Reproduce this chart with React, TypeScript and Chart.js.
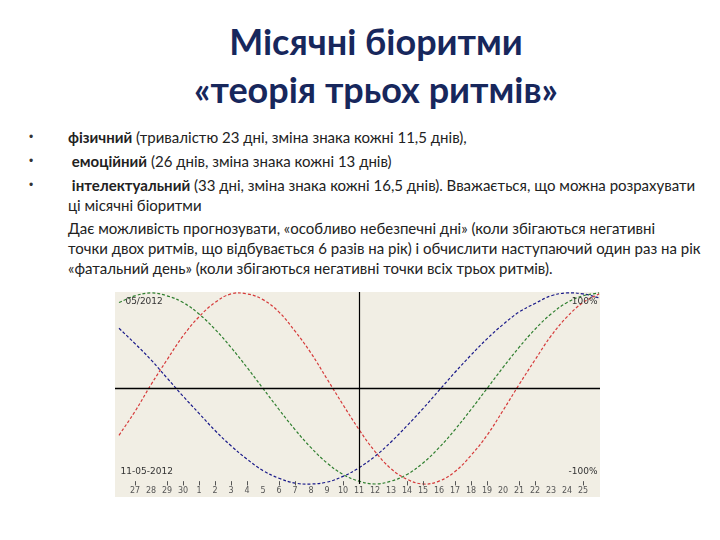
import React, { useEffect, useRef } from "react";
import { Chart, registerables } from "chart.js";

Chart.register(...registerables);

const days = [-1, 0, 1, 2, 3, 4, 5, 6, 7, 8, 9, 10, 11, 12, 13, 14, 15, 16, 17, 18, 19, 20, 21, 22, 23, 24, 25, 26, 27, 28, 29];
const physical = [-49, -24, 4, 30, 55, 75, 90, 99, 99, 93, 80, 60, 37, 10, -17, -43, -66, -84, -95, -100, -97, -87, -70, -49, -23, 4, 30, 55, 75, 90, 99];
const emotional = [90, 97, 100, 97, 90, 78, 62, 43, 22, 0, -22, -43, -62, -78, -90, -97, -100, -97, -90, -78, -62, -43, -22, 0, 22, 43, 62, 78, 90, 97, 100];
const intellectual = [63, 47, 30, 11, -8, -26, -44, -60, -74, -86, -94, -99, -100, -98, -92, -83, -71, -56, -39, -21, -2, 17, 35, 52, 67, 80, 89, 97, 100, 99, 95];
const tickLabels = ["27", "28", "29", "30", "1", "2", "3", "4", "5", "6", "7", "8", "9", "10", "11", "12", "13", "14", "15", "16", "17", "18", "19", "20", "21", "22", "23", "24", "25"];
const markedLabels = ["27", "29", "30", "1", "2", "3", "4", "6", "7", "10", "14", "15", "17", "18", "19", "21", "22", "25"];
const currentDayIndex = 14;
const cornerTopLeft = "05/2012";
const cornerTopRight = "100%";
const cornerBottomLeft = "11-05-2012";
const cornerBottomRight = "-100%";

const titleLines = ["Місячні біоритми", "«теорія трьох ритмів»"];

const overlayPlugin = {
  id: "bioOverlay",
  beforeDraw(chart: any) {
    const { ctx, width, height } = chart;
    ctx.save();
    ctx.fillStyle = "#f1eee4";
    ctx.fillRect(0, 0, width, height);
    ctx.restore();
  },
  afterDatasetsDraw(chart: any) {
    const { ctx, chartArea, scales } = chart;
    const x = scales.x;
    const y = scales.y;
    ctx.save();
    const y0 = Math.round(y.getPixelForValue(0)) + 0.5;
    ctx.strokeStyle = "#000";
    ctx.lineWidth = 1.5;
    ctx.beginPath();
    ctx.moveTo(chartArea.left, y0);
    ctx.lineTo(chartArea.right, y0);
    ctx.stroke();
    const xc = Math.round(x.getPixelForValue(currentDayIndex)) + 0.5;
    ctx.lineWidth = 1.2;
    ctx.beginPath();
    ctx.moveTo(xc, chartArea.top);
    ctx.lineTo(xc, y.getPixelForValue(-100));
    ctx.stroke();
    ctx.fillStyle = "#555";
    ctx.strokeStyle = "#555";
    ctx.lineWidth = 1;
    ctx.font = "8px 'DejaVu Sans'";
    ctx.textAlign = "center";
    ctx.textBaseline = "middle";
    const labelY = y.getPixelForValue(-107);
    tickLabels.forEach((lab, i) => {
      const px = x.getPixelForValue(i);
      ctx.fillText(lab, px, labelY);
      if (markedLabels.includes(lab)) {
        const t = Math.round(px) + 0.5;
        ctx.beginPath();
        ctx.moveTo(t, y.getPixelForValue(-97));
        ctx.lineTo(t, y.getPixelForValue(-101.5));
        ctx.stroke();
      }
    });
    ctx.font = "9px 'DejaVu Sans'";
    ctx.fillStyle = "#333";
    ctx.textAlign = "left";
    ctx.fillText(cornerTopLeft, x.getPixelForValue(-0.6), y.getPixelForValue(91));
    ctx.fillText(cornerBottomLeft, x.getPixelForValue(-0.9), y.getPixelForValue(-87));
    ctx.textAlign = "right";
    ctx.fillText(cornerTopRight, x.getPixelForValue(28.9), y.getPixelForValue(91));
    ctx.fillText(cornerBottomRight, x.getPixelForValue(28.9), y.getPixelForValue(-87));
    ctx.restore();
  },
};

function BioChart() {
  const ref = useRef<HTMLCanvasElement | null>(null);
  useEffect(() => {
    if (!ref.current) return;
    const mk = (vals: number[], color: string) => ({
      data: days.map((d, i) => ({ x: d, y: vals[i] })),
      borderColor: color,
      borderWidth: 1.2,
      borderDash: [3, 2],
      pointRadius: 0,
      tension: 0.4,
      fill: false,
    });
    const chart = new Chart(ref.current, {
      type: "line",
      data: {
        datasets: [
          mk(physical, "#d63a3a"),
          mk(emotional, "#2f7f2f"),
          mk(intellectual, "#1a1a8a"),
        ],
      },
      options: {
        animation: false,
        responsive: false,
        maintainAspectRatio: false,
        layout: { padding: 0 },
        plugins: { legend: { display: false }, tooltip: { enabled: false } },
        scales: {
          x: { type: "linear", display: false, min: -1.25, max: 29.06 },
          y: { display: false, min: -113.6, max: 101 },
        },
      },
      plugins: [overlayPlugin],
    } as any);
    return () => chart.destroy();
  }, []);
  return (
    <canvas
      ref={ref}
      width={485}
      height={205}
      style={{ position: "absolute", left: 115, top: 292, width: 485, height: 205 }}
    />
  );
}

const bodyFont = "Lato, 'Open Sans', sans-serif";

function Line({ top, left, children }: { top: number; left: number; children: any }) {
  return (
    <div
      style={{
        position: "absolute",
        top: top - 10,
        left,
        lineHeight: "20px",
        fontSize: 15,
        fontFamily: bodyFont,
        color: "#222",
        whiteSpace: "nowrap",
      }}
    >
      {children}
    </div>
  );
}

function Bullet({ top }: { top: number }) {
  return (
    <div
      style={{
        position: "absolute",
        top: top - 10,
        left: 29,
        lineHeight: "20px",
        fontSize: 12,
        fontFamily: "Arial, sans-serif",
        color: "#333",
      }}
    >
      •
    </div>
  );
}

export default function App() {
  return (
    <div
      style={{
        position: "fixed",
        left: 0,
        top: 0,
        width: 720,
        height: 540,
        background: "#fff",
        overflow: "hidden",
      }}
    >
      <div
        style={{
          position: "absolute",
          left: 0,
          width: 752,
          top: 17,
          textAlign: "center",
          fontFamily: bodyFont,
          fontWeight: 700,
          fontSize: 36,
          lineHeight: "48px",
          color: "#17275c",
        }}
      >
        <div>{titleLines[0]}</div>
        <div>{titleLines[1]}</div>
      </div>

      <Bullet top={137} />
      <Bullet top={161} />
      <Bullet top={185} />
      <Line top={137} left={68}>
        <b>фізичний</b> (тривалістю 23 дні, зміна знака кожні 11,5 днів),
      </Line>
      <Line top={161} left={68}>
        &nbsp;<b>емоційний</b> (26 днів, зміна знака кожні 13 днів)
      </Line>
      <Line top={185} left={68}>
        &nbsp;<b>інтелектуальний</b> (33 дні, зміна знака кожні 16,5 днів). Вважається, що можна розрахувати
      </Line>
      <Line top={205} left={68}>
        ці місячні біоритми
      </Line>
      <Line top={228} left={68}>
        Дає можливість прогнозувати, «особливо небезпечні дні» (коли збігаються негативні
      </Line>
      <Line top={248} left={68}>
        точки двох ритмів, що відбувається 6 разів на рік) і обчислити наступаючий один раз на рік
      </Line>
      <Line top={268} left={68}>
        «фатальний день» (коли збігаються негативні точки всіх трьох ритмів).
      </Line>

      <BioChart />
    </div>
  );
}
